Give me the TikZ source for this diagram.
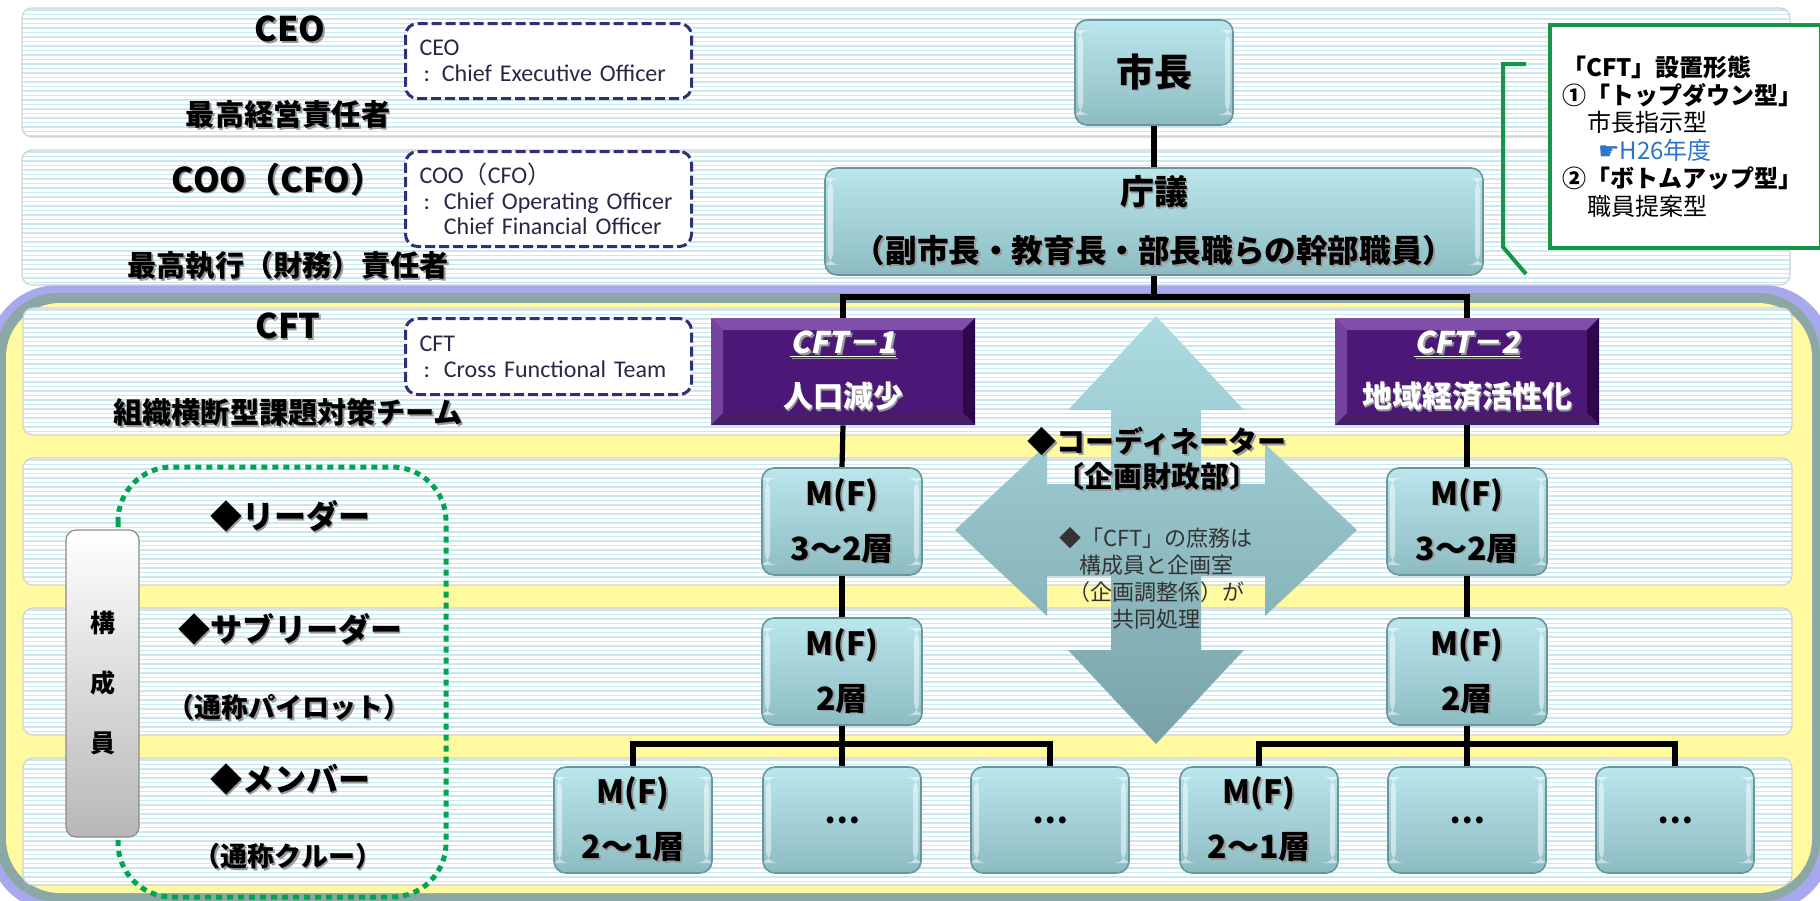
\documentclass[tikz,border=0pt]{standalone}
\usepackage{fontspec}
\setmainfont{Noto Sans CJK JP}
\newfontfamily\jp{Noto Sans CJK JP}
\newfontfamily\cftit{Noto Sans CJK JP}[FakeSlant=0.2]
\newfontfamily\dejavu{DejaVu Sans}
\newfontfamily\carl{Carlito}
\usetikzlibrary{calc}
\pgfdeclarelayer{back}
\pgfdeclarelayer{wires}
\pgfsetlayers{back,wires,main}
\definecolor{yel}{RGB}{255,250,160}
\definecolor{grayb}{RGB}{140,168,166}
\definecolor{purp}{RGB}{168,168,236}
\definecolor{stripe}{RGB}{202,232,238}
\definecolor{navy}{RGB}{46,49,120}
\definecolor{grn}{RGB}{0,165,80}
\definecolor{grnbox}{RGB}{20,150,70}
\definecolor{tealtop}{RGB}{186,230,236}
\definecolor{tealbot}{RGB}{140,188,194}
\definecolor{tealedge}{RGB}{105,150,156}
\definecolor{cftmid}{RGB}{75,24,120}
\definecolor{cftlight}{RGB}{128,80,168}
\definecolor{cftdark}{RGB}{45,8,75}
\definecolor{arrtop}{RGB}{172,220,226}
\definecolor{arrbot}{RGB}{120,162,168}
\definecolor{hblue}{RGB}{46,117,200}
\definecolor{txtdark}{RGB}{40,40,70}
\newcommand\shd[1]{\makebox[0pt][l]{\kern0.9pt\raisebox{-0.9pt}{\textcolor{black!40}{#1}}}#1}
\newcommand\stripeband[4]{%
  \begin{scope}
    \clip[rounded corners=5pt] (#1,#2) rectangle (#3,#4);
    \fill[white] (#1,#2) rectangle (#3,#4);
    \foreach \i in {0,...,30}{\draw[stripe, line width=0.9pt] (#1,{#2+2+4.5*\i}) -- (#3,{#2+2+4.5*\i});}
  \end{scope}
  \draw[black!18, line width=0.6pt, rounded corners=5pt] (#1,#2) rectangle (#3,#4);
}
\begin{document}
\begin{tikzpicture}[x=0.5pt,y=-0.5pt, line join=miter,
  conn/.style={draw=black, line width=2.6pt},
  tealbox/.style={rounded corners=6pt, top color=tealtop, bottom color=tealbot, draw=tealedge, line width=0.8pt, align=center, inner sep=0pt, minimum width=79pt, minimum height=53.5pt, font=\fontsize{16}{27.5}\selectfont\bfseries,
    path picture={
      \fill[white, opacity=0.5] ([shift={(1.5pt,-5pt)}]path picture bounding box.north west) rectangle ([shift={(4pt,5pt)}]path picture bounding box.south west);
      \fill[white, opacity=0.5] ([shift={(-4pt,-5pt)}]path picture bounding box.north east) rectangle ([shift={(-1.5pt,5pt)}]path picture bounding box.south east);
    }},
  cftbox/.style={fill=cftmid, minimum width=132pt, minimum height=53.5pt, inner sep=0pt, align=center, text=white, font=\fontsize{15}{27}\selectfont\bfseries,
    path picture={
      \coordinate (nw) at (path picture bounding box.north west);
      \coordinate (se) at (path picture bounding box.south east);
      \coordinate (ne) at (path picture bounding box.north east);
      \coordinate (sw) at (path picture bounding box.south west);
      \fill[cftlight] (nw) -- (ne) -- ([shift={(-6pt,-6pt)}]ne) -- ([shift={(6pt,-6pt)}]nw) -- cycle;
      \fill[cftlight!80!cftmid] (nw) -- ([shift={(6pt,-6pt)}]nw) -- ([shift={(6pt,6pt)}]sw) -- (sw) -- cycle;
      \fill[cftdark] (ne) -- (se) -- ([shift={(-6pt,6pt)}]se) -- ([shift={(-6pt,-6pt)}]ne) -- cycle;
      \fill[cftdark!70!cftlight] (sw) -- (se) -- ([shift={(-6pt,6pt)}]se) -- ([shift={(6pt,6pt)}]sw) -- cycle;
    }},
  lab/.style={inner sep=0pt, font=\bfseries},
  dbox/.style={draw=navy, line width=1.5pt, dash pattern=on 5pt off 2pt, rounded corners=6pt, fill=white, anchor=north west, text width=129pt, inner xsep=7pt, inner ysep=0pt, align=left, text=txtdark, font=\carl\fontsize{12}{12.8}\selectfont},
  tabbox/.style={rounded corners=5pt, top color=white, bottom color=black!28, draw=black!45, line width=0.6pt, minimum width=36.5pt, minimum height=153.5pt, inner sep=0pt, align=center, font=\fontsize{12.5}{30}\selectfont\bfseries}
]
\useasboundingbox (0,0) rectangle (1820,900);
\begin{pgfonlayer}{back}
\fill[white] (0,0) rectangle (1820,900);
\begin{scope}
  \clip (0,0) rectangle (1820,900);
  \fill[purp, rounded corners=35pt] (-12,285) rectangle (1832,912);
  \fill[grayb, rounded corners=31pt] (-4,293) rectangle (1820,902);
  \fill[yel, rounded corners=27pt] (6,303) rectangle (1812,893);
\end{scope}
\stripeband{22}{8}{1790}{137}
\stripeband{22}{150}{1790}{285}
\stripeband{23}{308}{1792}{435}
\stripeband{23}{458}{1792}{585}
\stripeband{23}{608}{1792}{735}
\stripeband{23}{758}{1792}{885}
% green bracket
\draw[grnbox, line width=2pt] (1526,64) -- (1503,64) -- (1503,247) -- (1526,274);
% green dotted members frame
\draw[grn, line width=2.5pt, dash pattern=on 3pt off 2.5pt, rounded corners=27pt] (118,467) rectangle (446,897);
% quad arrow
\shade[top color=arrtop, bottom color=arrbot, shift={(1156,530)}]
  (0,-214) -- (88,-120) -- (45,-120) -- (45,-46) -- (109,-46) -- (109,-86) -- (201,0)
  -- (109,86) -- (109,46) -- (45,46) -- (45,120) -- (88,120) -- (0,214)
  -- (-88,120) -- (-45,120) -- (-45,46) -- (-109,46) -- (-109,86) -- (-201,0)
  -- (-109,-86) -- (-109,-46) -- (-45,-46) -- (-45,-120) -- (-88,-120) -- cycle;
\end{pgfonlayer}

% green note
\node[draw=grnbox, line width=2pt, fill=white, anchor=north west, minimum height=111.5pt, text width=123.5pt, inner xsep=6pt, align=left, font=\fontsize{12}{13.9}\selectfont] (note) at (1548,23)
 {\textbf{「CFT」設置形態}\\
  \textbf{①「トップダウン型」}\\
  \hspace*{12.5pt}市長指示型\\
  \hspace*{18pt}\textcolor{hblue}{{\dejavu ☛}H26年度}\\
  \textbf{②「ボトムアップ型」}\\
  \hspace*{12.5pt}職員提案型};

% dashed definition boxes
\node[dbox, minimum height=37.5pt] (ceobox) at (404,22) {CEO\\\hspace*{2pt}: Chief Executive Officer};
\node[dbox, minimum height=47.5pt] (coobox) at (404,150) {COO{\jp（}CFO{\jp）}\\\hspace*{2pt}:\hspace{7pt}Chief Operating Officer\\\hspace*{2pt}\phantom{:}\hspace{7pt}Chief Financial Officer};
\node[dbox, minimum height=38pt] (cftdef) at (404,317) {CFT\\\hspace*{2pt}:\hspace{7pt}Cross Functional Team};

% left labels
\node[lab, font=\fontsize{17}{20}\selectfont\bfseries] (lceo) at (290,30) {\shd{CEO}};
\node[lab, font=\fontsize{14.6}{18}\selectfont\bfseries] (lceoj) at (288,115) {\shd{最高経営責任者}};
\node[lab, font=\fontsize{17}{20}\selectfont\bfseries] (lcoo) at (278,180) {\shd{COO（CFO）}};
\node[lab, font=\fontsize{14.6}{18}\selectfont\bfseries] (lcooj) at (288,267) {\shd{最高執行（財務）責任者}};
\node[lab, font=\fontsize{17}{20}\selectfont\bfseries] (lcft) at (288,327) {\shd{CFT}};
\node[lab, font=\fontsize{14.6}{18}\selectfont\bfseries] (lcftj) at (288,413) {\shd{組織横断型課題対策チーム}};
\node[lab, font=\fontsize{16}{19}\selectfont\bfseries] (lleader) at (290,517) {\shd{◆リーダー}};
\node[lab, font=\fontsize{16}{19}\selectfont\bfseries] (lsub) at (290,630) {\shd{◆サブリーダー}};
\node[lab, font=\fontsize{13.5}{17}\selectfont\bfseries] (lpilot) at (289,708) {\shd{（通称パイロット）}};
\node[lab, font=\fontsize{16}{19}\selectfont\bfseries] (lmember) at (290,780) {\shd{◆メンバー}};
\node[lab, font=\fontsize{13.5}{17}\selectfont\bfseries] (lcrew) at (288,857) {\shd{（通称クルー）}};
\node[tabbox] (members) at (102.5,683.5) {構\\成\\員};

% chart nodes
\node[tealbox, minimum height=52.5pt, font=\fontsize{19}{22}\selectfont\bfseries] (mayor) at (1154,72.5) {\shd{市長}};
\node[tealbox, minimum width=329pt, font=\fontsize{15.8}{29}\selectfont\bfseries] (council) at (1154,221.5)
  {{\fontsize{17}{29}\selectfont\shd{庁議}}\\\shd{（副市長・教育長・部長職らの幹部職員）}};
\node[cftbox] (cft1) at (843,371.5) {\shd{{\cftit\underline{CFT－1}}}\\\shd{人口減少}};
\node[cftbox] (cft2) at (1467,371.5) {\shd{{\cftit\underline{CFT－2}}}\\\shd{地域経済活性化}};
\node[tealbox, minimum width=80pt] (m1a) at (842,521.5) {\shd{M(F)}\\\shd{3～2層}};
\node[tealbox, minimum width=80pt] (m1b) at (842,671.5) {\shd{M(F)}\\\shd{2層}};
\node[tealbox, minimum width=80pt] (m2a) at (1467,521.5) {\shd{M(F)}\\\shd{3～2層}};
\node[tealbox, minimum width=80pt] (m2b) at (1467,671.5) {\shd{M(F)}\\\shd{2層}};
\node[tealbox, minimum height=53pt] (b1) at (633,820) {\shd{M(F)}\\\shd{2～1層}};
\node[tealbox, minimum height=53pt] (b2) at (842,820) {…};
\node[tealbox, minimum height=53pt] (b3) at (1050,820) {…};
\node[tealbox, minimum height=53pt] (b4) at (1259,820) {\shd{M(F)}\\\shd{2～1層}};
\node[tealbox, minimum height=53pt] (b5) at (1467,820) {…};
\node[tealbox, minimum height=53pt] (b6) at (1675,820) {…};

% coordinator texts
\node[inner sep=0pt, align=center, font=\fontsize{14.5}{17.5}\selectfont\bfseries] (coord) at (1157,460) {\shd{◆コーディネーター}\\\shd{〔企画財政部〕}};
\node[inner sep=0pt, align=center, text=black!80, font=\fontsize{11}{13.5}\selectfont] (coordnote) at (1156,578) {◆「CFT」の庶務は\\構成員と企画室\\（企画調整係）が\\共同処理};

% connectors
\coordinate (bus) at (1154,297);
\coordinate (j1) at (842,744);
\coordinate (j2) at (1467,744);
\begin{pgfonlayer}{wires}
\draw[conn] (mayor.south) -- (council.north);
\draw[conn] (council.south) -- (bus);
\draw[conn] (cft1.north) |- (bus) -| (cft2.north);
\draw[conn] (cft1.south) -- (m1a.north);
\draw[conn] (m1a.south) -- (m1b.north);
\draw[conn] (m1b.south) -- (b2.north);
\draw[conn] (b1.north) |- (j1) -| (b3.north);
\draw[conn] (cft2.south) -- (m2a.north);
\draw[conn] (m2a.south) -- (m2b.north);
\draw[conn] (m2b.south) -- (b5.north);
\draw[conn] (b4.north) |- (j2) -| (b6.north);
\end{pgfonlayer}
\end{tikzpicture}
\end{document}
